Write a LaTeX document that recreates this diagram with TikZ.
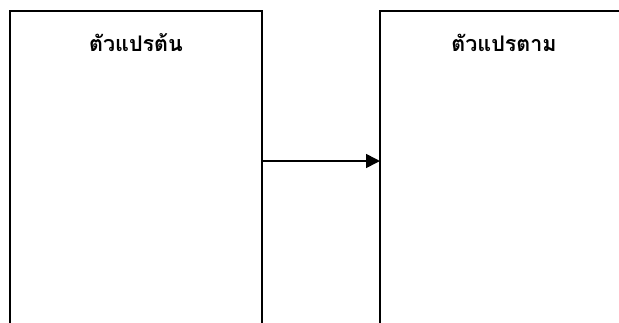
\documentclass[tikz,border=0pt]{standalone}
\usepackage{fontspec}
\newfontfamily\thaifont[Script=Thai]{Loma}
\usetikzlibrary{arrows.meta}
\begin{document}
\begin{tikzpicture}[x=1pt,y=-1pt,
  boxline/.style={draw=black,line width=1.5pt},
  lbl/.style={font=\thaifont\bfseries\fontsize{21.5}{26}\selectfont,inner sep=0pt,anchor=base},
  conn/.style={line width=1.6pt,-{Triangle[length=14pt,width=14pt]}}]
\useasboundingbox (0,0) rectangle (619,322);
\begin{scope}
\clip (0,0) rectangle (619,322);
\draw[boxline] (10,11) rectangle (262,340);
\draw[boxline] (380,11) rectangle (640,340);
\end{scope}
\coordinate (srcR) at (262,161);
\coordinate (dstL) at (380,161);
\node[lbl] (t1) at (136,51.5) {ตัวแปรต้น};
\node[lbl] (t2) at (504,51.5) {ตัวแปรตาม};
\draw[conn] (srcR) -- (dstL);
\end{tikzpicture}
\end{document}
